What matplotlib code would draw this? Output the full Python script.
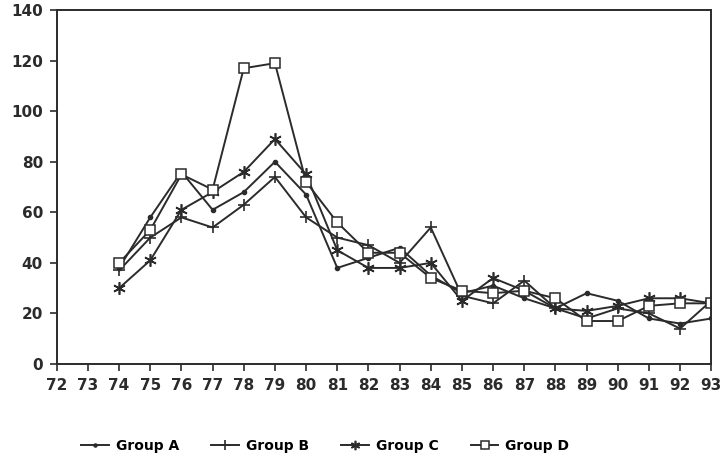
import matplotlib
matplotlib.use("Agg")
import matplotlib.pyplot as plt

years = list(range(74, 94))
group_a = [38, 58, 76, 61, 68, 80, 67, 38, 42, 46, 35, 28, 31, 26, 22, 28, 25, 18, 16, 18]
group_b = [37, 50, 58, 54, 63, 74, 58, 50, 47, 40, 54, 27, 24, 33, 22, 18, 22, 20, 14, 25]
group_c = [30, 41, 61, 68, 76, 89, 75, 45, 38, 38, 40, 25, 34, 29, 22, 21, 23, 26, 26, 24]
group_d = [40, 53, 75, 69, 117, 119, 72, 56, 44, 44, 34, 29, 28, 29, 26, 17, 17, 23, 24, 24]
labels = ["Group A", "Group B", "Group C", "Group D"]
xticks = list(range(72, 94))
yticks = list(range(0, 141, 20))

plt.rcParams["font.family"] = ["DejaVu Sans"]
plt.rcParams["font.weight"] = "bold"

ink = "#2b2b2b"
fig = plt.figure(figsize=(7.28, 4.59), dpi=100)
ax = fig.add_axes([0.078, 0.207, 0.899, 0.771])

styles = [
    dict(marker="o", ms=3, mfc=ink),
    dict(marker="+", ms=9, mew=1.2),
    dict(marker=(6, 2, 0), ms=9, mew=1.2),
    dict(marker="s", ms=7, mfc="white", mew=1.1),
]
for vals, lab, st in zip([group_a, group_b, group_c, group_d], labels, styles):
    ax.plot(years, vals, color=ink, mec=ink, lw=1.4, label=lab, **st)

ax.set_xlim(72, 93)
ax.set_ylim(0, 140)
ax.set_xticks(xticks)
ax.set_yticks(yticks)
ax.tick_params(direction="out", length=5, width=1.2, colors=ink, labelsize=11, pad=5)
for lbl in ax.get_xticklabels() + ax.get_yticklabels():
    lbl.set_fontweight("bold")
for sp in ax.spines.values():
    sp.set_color(ink)
    sp.set_linewidth(1.4)

fig.legend(loc="center", bbox_to_anchor=(0.447, 0.028), ncol=4, frameon=False,
           handlelength=2.0, columnspacing=2.3, handletextpad=0.5, markerscale=0.75,
           prop=dict(size=10, weight="bold"))

fig.savefig("out.png", dpi=100)
